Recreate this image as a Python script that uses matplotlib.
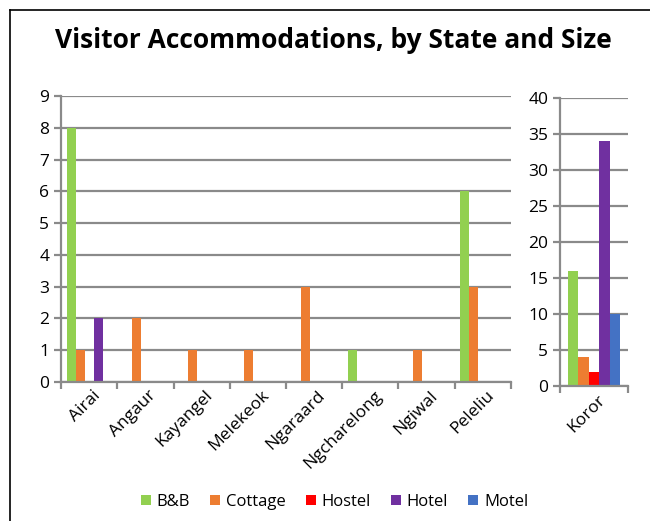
import matplotlib.pyplot as plt
import numpy as np
from matplotlib.lines import Line2D
from matplotlib.patches import Patch
from matplotlib.transforms import ScaledTranslation

plt.rcParams["font.family"] = ["Open Sans", "DejaVu Sans"]

states = ["Airai", "Angaur", "Kayangel", "Melekeok", "Ngaraard",
          "Ngcharelong", "Ngiwal", "Peleliu"]
series = ["B&B", "Cottage", "Hostel", "Hotel", "Motel"]
colors = ["#92D050", "#ED7D31", "#FF0000", "#7030A0", "#4472C4"]

bnb = [8, 0, 0, 0, 0, 1, 0, 6]
cottage = [1, 2, 1, 1, 3, 0, 1, 3]
hostel = [0, 0, 0, 0, 0, 0, 0, 0]
hotel = [2, 0, 0, 0, 0, 0, 0, 0]
motel = [0, 0, 0, 0, 0, 0, 0, 0]

koror_label = ["Koror"]
koror = [16, 4, 2, 34, 10]

grid_col = "#8A8A8A"
W, H = 650, 521
fig = plt.figure(figsize=(W / 100, H / 100), dpi=100, facecolor="white")


def style(ax, n):
    for s in ("top", "right"):
        ax.spines[s].set_visible(False)
    for s in ("left", "bottom"):
        ax.spines[s].set_color(grid_col)
        ax.spines[s].set_linewidth(1.6)
    ax.yaxis.grid(True, color=grid_col, linewidth=1.6)
    ax.set_axisbelow(True)
    ax.tick_params(axis="y", colors=grid_col, length=5, width=1.6,
                   labelcolor="black", labelsize=12.5)
    ax.set_xticks(np.arange(n + 1) - 0.5, minor=True)
    ax.tick_params(axis="x", which="minor", colors=grid_col, length=5, width=1.6)
    ax.tick_params(axis="x", which="major", length=0, labelsize=12.5, pad=4)
    ax.set_xlim(-0.5, n - 0.5)
    shift = ScaledTranslation(3 / 100, 0, fig.dpi_scale_trans)
    for lab in ax.get_xticklabels():
        lab.set_transform(lab.get_transform() + shift)


ax1 = fig.add_axes([61 / W, 1 - 382 / H, 450 / W, 286 / H])
values = [bnb, cottage, hostel, hotel, motel]
x = np.arange(len(states))
w = 0.16
for i, (vals, c) in enumerate(zip(values, colors)):
    ax1.bar(x + (i - 2) * w, vals, width=w, color=c)
ax1.set_ylim(0, 9)
ax1.set_yticks(range(0, 10))
ax1.set_xticks(x)
ax1.set_xticklabels(states, rotation=45, ha="right", rotation_mode="anchor")
style(ax1, len(states))

ax2 = fig.add_axes([560 / W, 1 - 386 / H, 68 / W, 288 / H])
w2 = 0.153
for i, (v, c) in enumerate(zip(koror, colors)):
    ax2.bar((i - 2) * w2, v, width=w2, color=c)
ax2.set_ylim(0, 40)
ax2.set_yticks(range(0, 41, 5))
ax2.set_xticks([0])
ax2.set_xticklabels(koror_label, rotation=45, ha="right", rotation_mode="anchor")
style(ax2, 1)

fig.text(0.513, 1 - 40 / H, "Visitor Accommodations, by State and Size",
         ha="center", va="center", fontsize=19, fontweight="bold")

handles = [Patch(facecolor=c, label=s) for s, c in zip(series, colors)]
fig.legend(handles=handles, loc="center", bbox_to_anchor=(0.515, 1 - 502 / H),
           ncol=5, frameon=False, fontsize=12, handlelength=0.6,
           handleheight=0.6, handletextpad=0.35, columnspacing=1.2)

bx, by = 10 / W, 1 - 10 / H
fig.add_artist(Line2D([bx, 1], [by, by], color="black", linewidth=1.2,
                      transform=fig.transFigure))
fig.add_artist(Line2D([bx, bx], [0, by], color="black", linewidth=1.2,
                      transform=fig.transFigure))

fig.savefig("out.png", dpi=100)
